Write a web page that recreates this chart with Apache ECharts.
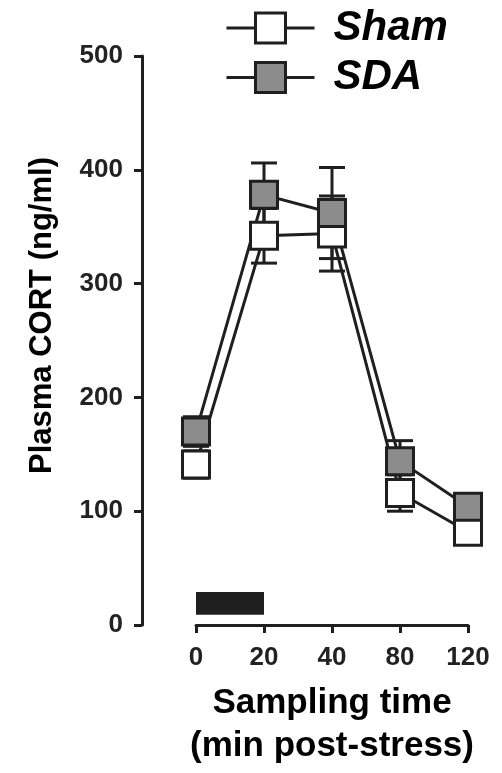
<!DOCTYPE html>
<html>
<head>
<meta charset="utf-8">
<script src="https://cdn.jsdelivr.net/npm/echarts@6/dist/echarts.min.js"></script>
<style>
html,body{margin:0;padding:0;background:#fff;}
#chart{width:502px;height:773px;}
</style>
</head>
<body>
<div id="chart"></div>
<script>
// 采样时间（分钟）
var timeLabels = ['0', '20', '40', '80', '120'];
// Sham 组均值 / SEM
var shamMean = [141, 342, 344, 116, 82];
var shamSem = [12, 24, 33, 16, 10];
// SDA 组均值 / SEM
var sdaMean = [170, 378, 362, 144, 104];
var sdaSem = [13, 28, 40, 18, 10];
// 应激时段（黑条）
var stressPeriod = ['0', '20'];
var stressRange = [9, 29];

var ink = '#1f1f1f';
var font = '"Liberation Sans", Arial, sans-serif';

function errData(mean, sem) {
    var out = [];
    for (var i = 0; i < mean.length; i++) {
        out.push([i, mean[i] - sem[i], mean[i] + sem[i]]);
    }
    return out;
}

function renderErr(params, api) {
    var lo = api.coord([api.value(0), api.value(1)]);
    var hi = api.coord([api.value(0), api.value(2)]);
    var w = 13;
    var st = {stroke: ink, lineWidth: 3};
    return {
        type: 'group',
        children: [
            {type: 'line', shape: {x1: lo[0], y1: lo[1], x2: hi[0], y2: hi[1]}, style: st},
            {type: 'line', shape: {x1: lo[0] - w, y1: lo[1], x2: lo[0] + w, y2: lo[1]}, style: st},
            {type: 'line', shape: {x1: hi[0] - w, y1: hi[1], x2: hi[0] + w, y2: hi[1]}, style: st}
        ]
    };
}

var chart = echarts.init(document.getElementById('chart'));
var option = {
    animation: false,
    backgroundColor: '#fff',
    grid: {left: 196, right: 34, top: 56, bottom: 145},
    legend: {
        orient: 'vertical',
        left: 220,
        top: 2,
        itemWidth: 88,
        itemHeight: 37.5,
        itemGap: 7.5,
        data: ['Sham', 'SDA'],
        lineStyle: {width: 3, color: ink},
        itemStyle: {borderWidth: 3, borderColor: ink},
        textStyle: {
            fontFamily: font,
            fontSize: 42,
            fontWeight: 'bold',
            fontStyle: 'italic',
            color: '#000',
            padding: [0, 0, 0, 14]
        }
    },
    xAxis: {
        type: 'category',
        data: timeLabels,
        boundaryGap: false,
        axisLine: {lineStyle: {color: ink, width: 3}},
        axisTick: {length: 8, lineStyle: {color: ink, width: 3}},
        axisLabel: {
            margin: 20,
            fontFamily: font,
            fontSize: 26,
            fontWeight: 'bold',
            color: '#222'
        },
        name: 'Sampling time\n(min post-stress)',
        nameLocation: 'middle',
        nameGap: 57,
        nameTextStyle: {
            fontFamily: font,
            fontSize: 35,
            fontWeight: 'bold',
            color: '#000',
            lineHeight: 43
        }
    },
    yAxis: {
        type: 'value',
        min: 0,
        max: 500,
        interval: 100,
        offset: 54,
        splitLine: {show: false},
        axisLine: {show: true, lineStyle: {color: ink, width: 3}},
        axisTick: {show: true, length: 8, lineStyle: {color: ink, width: 3}},
        axisLabel: {
            margin: 19,
            fontFamily: font,
            fontSize: 26,
            fontWeight: 'bold',
            color: '#222'
        },
        name: 'Plasma CORT (ng/ml)',
        nameLocation: 'middle',
        nameGap: 84,
        nameTextStyle: {
            fontFamily: font,
            fontSize: 31,
            fontWeight: 'bold',
            color: '#000',
            padding: [0, 0, 0, 50]
        }
    },
    series: [
        {
            name: 'shamErr',
            type: 'custom',
            renderItem: renderErr,
            data: errData(shamMean, shamSem),
            encode: {x: 0, y: [1, 2]},
            silent: true
        },
        {
            name: 'Sham',
            type: 'line',
            data: shamMean,
            symbol: 'rect',
            symbolSize: 27,
            lineStyle: {color: ink, width: 3},
            itemStyle: {color: '#fff', borderColor: ink, borderWidth: 3},
            markArea: {
                silent: true,
                itemStyle: {color: ink},
                data: [[
                    {xAxis: stressPeriod[0], yAxis: stressRange[1]},
                    {xAxis: stressPeriod[1], yAxis: stressRange[0]}
                ]]
            }
        },
        {
            name: 'sdaErr',
            type: 'custom',
            renderItem: renderErr,
            data: errData(sdaMean, sdaSem),
            encode: {x: 0, y: [1, 2]},
            silent: true
        },
        {
            name: 'SDA',
            type: 'line',
            data: sdaMean,
            symbol: 'rect',
            symbolSize: 27,
            lineStyle: {color: ink, width: 3},
            itemStyle: {color: '#8c8c8c', borderColor: ink, borderWidth: 3}
        }
    ]
};
chart.setOption(option);
</script>
</body>
</html>
